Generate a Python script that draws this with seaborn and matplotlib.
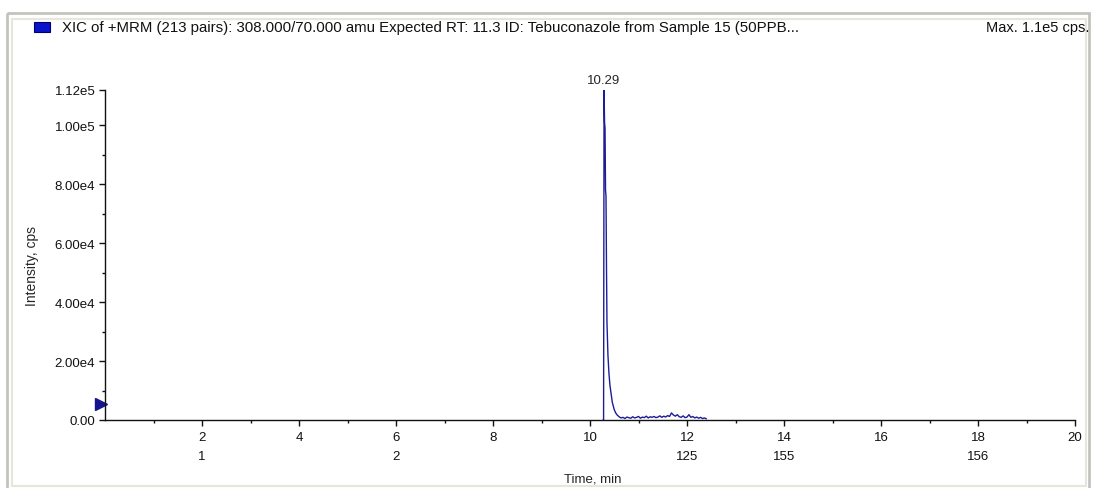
import matplotlib
matplotlib.use("Agg")
import matplotlib.pyplot as plt
import matplotlib.ticker as mticker
import matplotlib.transforms as mtransforms
from matplotlib.patches import Rectangle
import pandas as pd
import seaborn as sns

# peak region of the XIC trace (time in min, intensity in cps)
peak_time = [10.27, 10.28, 10.29, 10.30, 10.31, 10.32, 10.33, 10.34, 10.35,
             10.37, 10.39, 10.41, 10.43, 10.46, 10.50, 10.53, 10.56]
peak_int = [0, 0, 112000, 101000, 99000, 78000, 76000, 52000, 33000,
            22000, 16000, 12000, 9500, 6000, 3500, 2400, 1700]

# baseline tail after the peak
tail_time = [10.60, 10.64, 10.68, 10.72, 10.76, 10.80, 10.84, 10.88, 10.92,
             10.96, 11.00, 11.04, 11.08, 11.12, 11.16, 11.20, 11.24, 11.28,
             11.32, 11.36, 11.40, 11.44, 11.48, 11.52, 11.56, 11.60, 11.64,
             11.68, 11.72, 11.76, 11.80, 11.84, 11.88, 11.92, 11.96, 12.00,
             12.04, 12.08, 12.12, 12.16, 12.20, 12.24, 12.28, 12.32, 12.36,
             12.40]
tail_int = [1100, 700, 900, 500, 1000, 800, 600, 1100, 700, 900,
            1200, 600, 1000, 800, 1300, 700, 1100, 900, 1200, 800,
            1000, 1400, 900, 1300, 1000, 1500, 1200, 2400, 1700, 1300,
            1800, 1100, 900, 1400, 800, 1000, 1800, 900, 1200, 700,
            1000, 600, 900, 500, 700, 400]

x_major = [2, 4, 6, 8, 10, 12, 14, 16, 18, 20]
x_labels = ["2\n1", "4", "6\n2", "8", "10", "12\n125", "14\n155", "16",
            "18\n156", "20"]
y_major = [0, 20000, 40000, 60000, 80000, 100000, 112000]
y_labels = ["0.00", "2.00e4", "4.00e4", "6.00e4", "8.00e4", "1.00e5", "1.12e5"]

title = ("XIC of +MRM (213 pairs): 308.000/70.000 amu Expected RT: 11.3 "
         "ID: Tebuconazole from Sample 15 (50PPB...")
max_text = "Max. 1.1e5 cps."
apex_time = 10.29
apex_int = 112000
threshold = 5500

df = pd.DataFrame({"time": peak_time + tail_time,
                   "intensity": peak_int + tail_int})

sns.set_style("white")
plt.rcParams["font.family"] = ["Liberation Sans", "DejaVu Sans"]
FS = 9.5

W, H = 1094, 489
fig = plt.figure(figsize=(W / 100, H / 100), dpi=100)

# window frame
frame = fig.add_axes([0, 0, 1, 1])
frame.set_xlim(0, W)
frame.set_ylim(H, 0)
frame.axis("off")
frame.add_patch(Rectangle((7, 14), W - 12, H - 12, fill=False,
                          edgecolor="#c4c4bf", linewidth=2))
frame.add_patch(Rectangle((12, 20), W - 20, H - 22, fill=False,
                          edgecolor="#e8e6da", linewidth=1.5))
frame.add_patch(Rectangle((34, 23), 16, 10, facecolor="#0a14c8",
                          edgecolor="#00006e", linewidth=0.8))
frame.text(62, 28, title, fontsize=10.8, va="center", ha="left", color="#111111")
frame.text(1089, 28, max_text, fontsize=10.5, va="center", ha="right",
           color="#111111")

ax = fig.add_axes([105 / W, 1 - 421 / H, (1075 - 105) / W, (421 - 91) / H])
sns.lineplot(data=df, x="time", y="intensity", ax=ax, color="#1c1c9a",
             linewidth=1.0)

ax.set_xlim(0, 20)
ax.set_ylim(0, 112000)
ax.set_xticks(x_major)
ax.set_xticklabels(x_labels, linespacing=1.75)
ax.xaxis.set_minor_locator(mticker.FixedLocator([1, 3, 5, 7, 9, 11, 13, 15, 17, 19]))
ax.set_yticks(y_major)
ax.set_yticklabels(y_labels)
ax.yaxis.set_minor_locator(mticker.FixedLocator([10000, 30000, 50000, 70000, 90000]))
ax.tick_params(axis="both", which="major", direction="out", length=4, width=1,
               labelsize=FS, colors="#111111", bottom=True, left=True)
ax.tick_params(axis="both", which="minor", direction="out", length=2, width=1,
               colors="#111111", bottom=True, left=True)
ax.tick_params(axis="x", pad=4)
ax.tick_params(axis="y", pad=3)

for side in ["top", "right"]:
    ax.spines[side].set_visible(False)
for side in ["left", "bottom"]:
    ax.spines[side].set_color("#111111")
    ax.spines[side].set_linewidth(1)

ax.set_xlabel("Time, min", fontsize=FS)
ax.set_ylabel("Intensity, cps", fontsize=FS + 0.5)
ax.xaxis.set_label_coords(0.503, -0.158)
ax.yaxis.set_label_coords(-0.068, 0.47)

# apex label and threshold marker
ax.annotate(f"{apex_time:.2f}", (apex_time, apex_int), xytext=(0, 3),
            textcoords="offset points", ha="center", va="bottom", fontsize=FS,
            annotation_clip=False)
shift = mtransforms.ScaledTranslation(-4 / 100, 0, fig.dpi_scale_trans)
ax.plot([0], [threshold], marker=">", color="#14148c", markersize=8,
        clip_on=False, linestyle="none", transform=ax.transData + shift)

fig.savefig("out.png", dpi=100)
